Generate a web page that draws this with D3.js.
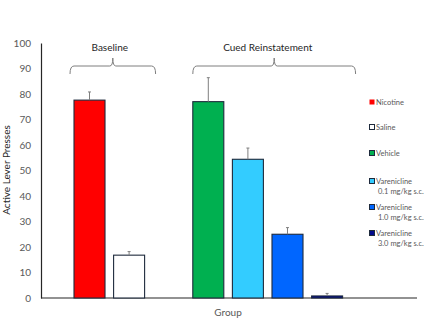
<!DOCTYPE html>
<html><head><meta charset="utf-8">
<script src="https://cdn.jsdelivr.net/npm/d3@7"></script>
<style>
html,body{margin:0;padding:0;background:#fff;}
svg{display:block;font-family:Lato,"Open Sans",sans-serif;}
</style></head>
<body><svg id="chart" width="425" height="336"></svg>
<script>
const categories = ["Nicotine","Saline","","Vehicle","Varenicline 0.1 mg/kg s.c.","Varenicline 1.0 mg/kg s.c.","Varenicline 3.0 mg/kg s.c."];
const values = [77.6, 16.8, null, 77.0, 54.4, 25.0, 0.8];
const errors = [3.2, 1.4, null, 9.4, 4.4, 2.6, 1.0];
const colors = ["#ff0000","#ffffff",null,"#00b050","#33ccff","#0066ff","#000a8c"];
const legendLine1 = ["Nicotine","Saline",null,"Vehicle","Varenicline","Varenicline","Varenicline"];
const legendLine2 = [null,null,null,null,"0.1 mg/kg s.c.","1.0 mg/kg s.c.","3.0 mg/kg s.c."];
const yTicks = [0,10,20,30,40,50,60,70,80,90,100];
const groups = [
  {label:"Baseline", from:0, to:1},
  {label:"Cued Reinstatement", from:3, to:6}
];

const svg = d3.select("#chart");
const y = d3.scaleLinear().domain([0,100]).range([298,43]);
const x = d3.scaleBand().domain(d3.range(categories.length)).range([74,342.6]).paddingInner(0.217).paddingOuter(0);

// axes
const yAxis = d3.axisLeft(y).tickValues(yTicks).tickSize(0).tickPadding(10);
const gy = svg.append("g").attr("transform","translate(41,0)").call(yAxis);
gy.select(".domain").attr("stroke","#262626").attr("stroke-width",1.2);
gy.selectAll("text").attr("fill","#595959").style("font-size","10px").style("font-family","Lato,sans-serif");

svg.append("line").attr("x1",41).attr("x2",417).attr("y1",y(0)).attr("y2",y(0))
  .attr("stroke","#262626").attr("stroke-width",1.2);

// bars
const idx = d3.range(categories.length).filter(i => values[i] !== null);
svg.append("g").selectAll("rect").data(idx).join("rect")
  .attr("x", i => x(i)).attr("width", x.bandwidth())
  .attr("y", i => y(values[i])).attr("height", i => y(0) - y(values[i]))
  .attr("fill", i => colors[i]).attr("stroke","#1e2a3c").attr("stroke-width",1.1);

// error bars (upper only)
const eg = svg.append("g").attr("stroke","#7f7f7f").attr("stroke-width",1);
eg.selectAll("line.v").data(idx).join("line").attr("class","v")
  .attr("x1", i => x(i)+x.bandwidth()/2).attr("x2", i => x(i)+x.bandwidth()/2)
  .attr("y1", i => y(values[i])).attr("y2", i => y(values[i]+errors[i]));
eg.selectAll("line.c").data(idx).join("line").attr("class","c")
  .attr("x1", i => x(i)+x.bandwidth()/2-1.5).attr("x2", i => x(i)+x.bandwidth()/2+1.5)
  .attr("y1", i => y(values[i]+errors[i])).attr("y2", i => y(values[i]+errors[i]));

// group braces
groups.forEach(g => {
  const first = g.from === 0;
  const x0 = x(g.from) + (first ? -4 : 0);
  const x1 = x(g.to) + x.bandwidth() + (first ? 11 : 13);
  const xm = (x0 + x1)/2;
  const yb = 74, yt = 66, ytip = 58;
  const p = d3.path();
  p.moveTo(x0, yb);
  p.quadraticCurveTo(x0, yt, x0+4, yt);
  p.lineTo(xm-3, yt);
  p.quadraticCurveTo(xm, yt, xm, ytip);
  p.quadraticCurveTo(xm, yt, xm+3, yt);
  p.lineTo(x1-4, yt);
  p.quadraticCurveTo(x1, yt, x1, yb);
  svg.append("path").attr("d", p.toString()).attr("fill","none").attr("stroke","#7f7f7f").attr("stroke-width",1);
  svg.append("text").attr("x", xm - (first ? 3 : 6.5)).attr("y", 51).attr("text-anchor","middle")
    .attr("fill","#262626").style("font-size","10px").text(g.label);
});

// legend
const legY = [102, 127, null, 153, 181, 207, 233];
const lg = svg.append("g");
idx.forEach(i => {
  lg.append("rect").attr("x",369.5).attr("y",legY[i]-2.5).attr("width",5).attr("height",5)
    .attr("fill",colors[i]).attr("stroke", i===0 ? "none" : "#1e2a3c").attr("stroke-width",1);
  lg.append("text").attr("x",376).attr("y",legY[i]+3).attr("fill","#595959").style("font-size","7.5px").text(legendLine1[i]);
  if (legendLine2[i]) lg.append("text").attr("x",378).attr("y",legY[i]+13).attr("fill","#595959").style("font-size","7.5px").text(legendLine2[i]);
});

// axis titles
svg.append("text").attr("transform","translate(10,170) rotate(-90)").attr("text-anchor","middle")
  .attr("fill","#262626").style("font-size","10px").text("Active Lever Presses");
svg.append("text").attr("x",228).attr("y",316).attr("text-anchor","middle")
  .attr("fill","#595959").style("font-size","10px").text("Group");
</script></body></html>
